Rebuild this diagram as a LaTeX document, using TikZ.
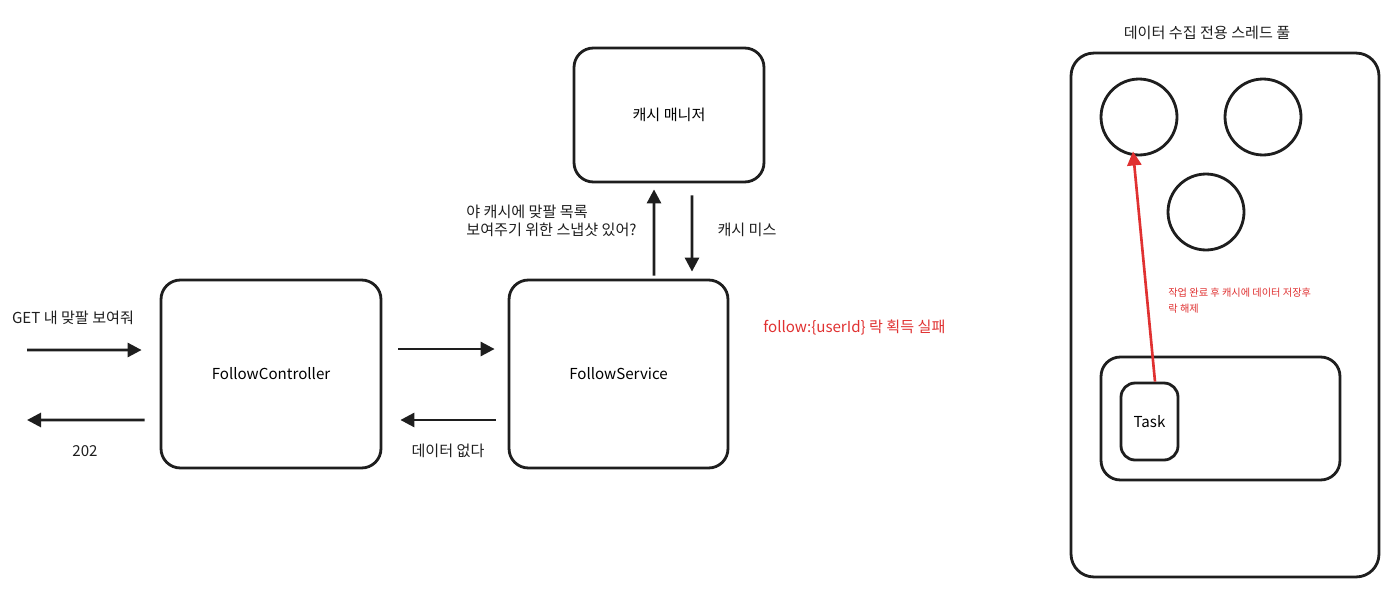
\documentclass[tikz,border=0pt]{standalone}
\usepackage{fontspec}
\setmainfont{Noto Sans CJK KR}
\usepackage{tikz}
\usetikzlibrary{positioning,calc}
\usetikzlibrary{arrows.meta}
\definecolor{InkBlack}{RGB}{30,30,30}
\definecolor{LockRed}{RGB}{224,49,49}
\tikzset{
  box/.style={draw=InkBlack,line width=1.6pt,rounded corners=11pt,fill=white,inner sep=0pt,font=\fontsize{8.6}{10.5}\selectfont},
  worker/.style={circle,draw=InkBlack,line width=1.6pt,minimum size=1.52cm,inner sep=0pt},
  arr/.style={draw=InkBlack,line width=1.6pt,-{Triangle[length=8pt,width=8pt]}},
  redarr/.style={draw=LockRed,line width=1.5pt,-{Triangle[length=8pt,width=8pt]}},
  lbl/.style={font=\fontsize{8.6}{10.5}\selectfont,text=InkBlack,inner sep=0pt},
}
\tikzset{redlbl/.style={font=\fontsize{8.6}{10.5}\selectfont,text=LockRed,inner sep=0pt,align=left},smallred/.style={font=\fontsize{5.8}{9}\selectfont,text=LockRed,inner sep=0pt,align=left}}

\begin{document}
\begin{tikzpicture}[x=0.02cm,y=-0.02cm]
\useasboundingbox (0,0) rectangle (1396,605);
% main flow
\node[box,minimum width=4.4cm,minimum height=3.76cm] (ctrl) at (271,374) {FollowController};
\node[box,minimum width=4.38cm,minimum height=3.76cm] (svc) at (618.5,374) {FollowService};
\node[box,minimum width=3.8cm,minimum height=2.68cm] (mgr) at (669,115) {캐시 매니저};
\coordinate (reqin) at (27,350);
\coordinate (resout) at (27,420);
\draw[arr,shorten >=0.36cm] (reqin) -- ([yshift=0.48cm]ctrl.west);
\draw[arr,shorten <=0.3cm] ([yshift=-0.92cm]ctrl.west) -- (resout);
\draw[arr,shorten <=0.32cm,shorten >=0.26cm] ([yshift=0.5cm]ctrl.east) -- ([yshift=0.5cm]svc.west);
\draw[arr,shorten <=0.24cm,shorten >=0.36cm] ([yshift=-0.92cm]svc.west) -- ([yshift=-0.92cm]ctrl.east);
\draw[arr,shorten <=0.06cm,shorten >=0.12cm] ([xshift=0.71cm]svc.north) -- ([xshift=-0.3cm]mgr.south);
\draw[arr,shorten <=0.24cm,shorten >=0.14cm] ([xshift=0.46cm]mgr.south) -- ([xshift=1.47cm]svc.north);
\node[lbl] (getlbl) at (73,318) {GET 내 맞팔 보여줘};
\node[lbl] (codelbl) at (85,451) {202};
\node[lbl] (nodata) at (448,451) {데이터 없다};
\node[lbl,anchor=west,align=left] (asklbl) at (466,221) {야 캐시에 맞팔 목록\\보여주기 위한 스냅샷 있어?};
\node[lbl] (misslbl) at (747,230) {캐시 미스};
\node[redlbl,anchor=west] (lockfail) at (763,327) {follow:\{userId\} 락 획득 실패};
% thread pool
\node[lbl] (pooltitle) at (1207,33) {데이터 수집 전용 스레드 풀};
\node[box,rounded corners=13pt,minimum width=6.16cm,minimum height=10.48cm] (pool) at (1225,315) {};
\node[worker] (w1) at (1139,117) {};
\node[worker] (w2) at (1263,117) {};
\node[worker] (w3) at (1206,212) {};
\node[box,minimum width=4.78cm,minimum height=2.46cm] (queue) at (1220.5,418.5) {};
\node[box,rounded corners=8pt,minimum width=1.14cm,minimum height=1.54cm] (task) at (1149.5,421.5) {Task};
\draw[redarr] ([xshift=0.11cm]task.north) -- ([xshift=-0.12cm,yshift=0.1cm]w1.south);
\node[smallred,anchor=west] (donelbl) at (1168,301) {작업 완료 후 캐시에 데이터 저장후\\락 해제};
\end{tikzpicture}
\end{document}
